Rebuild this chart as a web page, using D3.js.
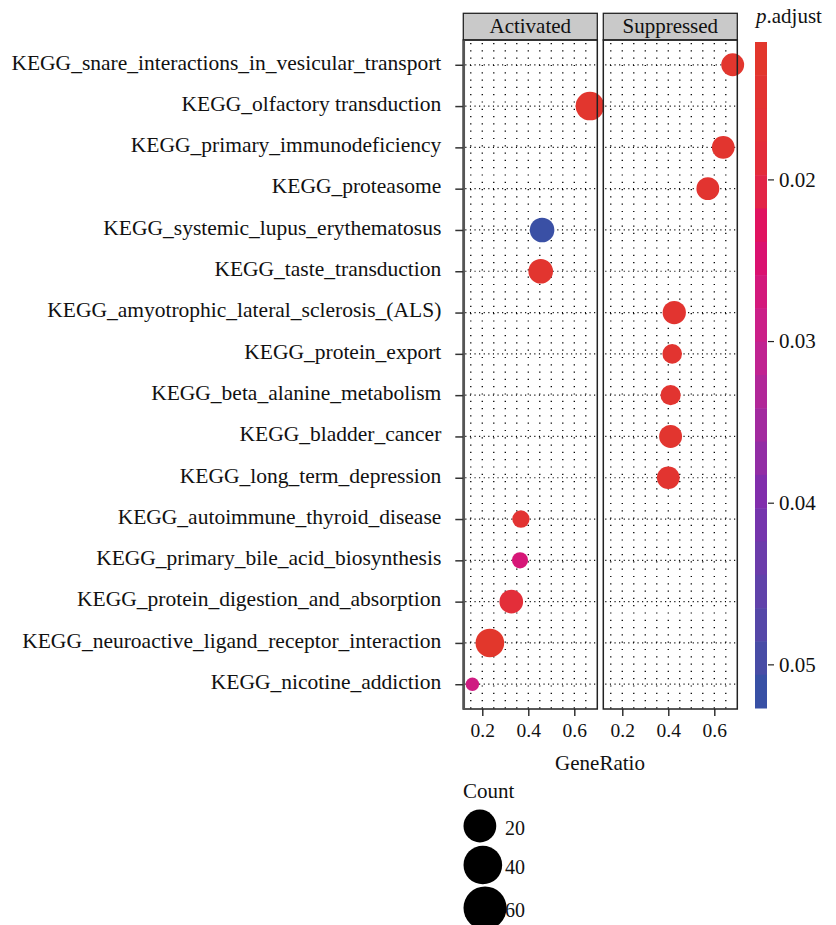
<!DOCTYPE html>
<html>
<head>
<meta charset="utf-8">
<script src="https://cdn.jsdelivr.net/npm/d3@7"></script>
<style>
  body { margin: 0; background: #fff; }
  svg text { font-family: "Liberation Serif", Tinos, "Times New Roman", Times, "DejaVu Serif", serif; fill: #111; }
</style>
</head>
<body>
<svg id="dotplot" width="836" height="925"></svg>
<script>
const pathways = [
  'KEGG_snare_interactions_in_vesicular_transport',
  'KEGG_olfactory transduction',
  'KEGG_primary_immunodeficiency',
  'KEGG_proteasome',
  'KEGG_systemic_lupus_erythematosus',
  'KEGG_taste_transduction',
  'KEGG_amyotrophic_lateral_sclerosis_(ALS)',
  'KEGG_protein_export',
  'KEGG_beta_alanine_metabolism',
  'KEGG_bladder_cancer',
  'KEGG_long_term_depression',
  'KEGG_autoimmune_thyroid_disease',
  'KEGG_primary_bile_acid_biosynthesis',
  'KEGG_protein_digestion_and_absorption',
  'KEGG_neuroactive_ligand_receptor_interaction',
  'KEGG_nicotine_addiction'
];
const groups = ['Activated', 'Suppressed'];
const pathwayGroup = ['Suppressed', 'Activated', 'Suppressed', 'Suppressed', 'Activated', 'Activated',
  'Suppressed', 'Suppressed', 'Suppressed', 'Suppressed', 'Suppressed', 'Activated', 'Activated',
  'Activated', 'Activated', 'Activated'];
const geneRatio = [0.68, 0.668, 0.639, 0.572, 0.46, 0.454, 0.426, 0.417, 0.41, 0.41, 0.40,
  0.368, 0.364, 0.326, 0.233, 0.157];
const counts = [26, 62, 25, 26, 35, 35, 28, 13, 15, 26, 25, 7, 5, 30, 62, 3];
const pAdjust = [0.013, 0.013, 0.0135, 0.014, 0.0515, 0.0135, 0.014, 0.014, 0.014, 0.0135, 0.014,
  0.015, 0.026, 0.018, 0.0125, 0.028];
const xTicks = [0.2, 0.4, 0.6];
const pTicks = [0.02, 0.03, 0.04, 0.05];
const countBreaks = [20, 40, 60];

const data = pathways.map((name, i) => ({
  name, group: pathwayGroup[i], ratio: geneRatio[i], count: counts[i], p: pAdjust[i]
}));

const svg = d3.select('#dotplot');

const plotTop = 40, plotBottom = 709, headerH = 26.7;
const panelX = { Activated: [463.3, 597.3], Suppressed: [603.3, 737.3] };

const yScale = d3.scalePoint()
  .domain(pathways)
  .range([plotTop, plotBottom])
  .padding(0.6);

const xScales = {};
groups.forEach(gr => {
  xScales[gr] = d3.scaleLinear().domain([0.1175, 0.7]).range(panelX[gr]);
});

// colour scale for p.adjust, stops
const colorScale = d3.scaleLinear()
  .domain([0.0115, 0.02, 0.0235, 0.03, 0.04, 0.0527])
  .range(['#e2382a', '#e32a3d', '#df0a68', '#c7218e', '#7b2fae', '#2f52a4'])
  .interpolate(d3.interpolateLab);

// ggplot-style area scale for Count
const areaT = d3.scaleLinear().domain(d3.extent(counts)).range([0, 1]);
const rLin = d3.scaleLinear().domain([0, 1]).range([6.7, 14.3]);
const rScale = v => rLin(Math.sqrt(Math.max(0, areaT(v))));

groups.forEach(gr => {
  const x = xScales[gr];
  const [x0, x1] = panelX[gr];
  const g = svg.append('g');

  // vertical dotted grid
  g.selectAll('.vgrid').data(d3.range(0.15, 0.69, 0.05))
    .enter().append('line')
      .attr('x1', d => x(d)).attr('x2', d => x(d))
      .attr('y1', plotTop + 3).attr('y2', plotBottom)
      .attr('stroke', '#000').attr('stroke-width', 1.3)
      .attr('stroke-dasharray', '1.2,6.1');

  // horizontal dotted grid at each pathway
  g.selectAll('.hgrid').data(pathways)
    .enter().append('line')
      .attr('x1', x0 + 2).attr('x2', x1 - 2)
      .attr('y1', d => yScale(d)).attr('y2', d => yScale(d))
      .attr('stroke', '#000').attr('stroke-width', 1.2)
      .attr('stroke-dasharray', '1.1,3.5');

  // header strip
  svg.append('rect')
    .attr('x', x0).attr('y', plotTop - headerH)
    .attr('width', x1 - x0).attr('height', headerH)
    .attr('fill', '#c9c9c9').attr('stroke', '#222').attr('stroke-width', 1.3);
  svg.append('text')
    .attr('x', (x0 + x1) / 2).attr('y', plotTop - 7)
    .attr('text-anchor', 'middle')
    .attr('font-size', 21)
    .text(gr);

  // x axis
  const xAxis = d3.axisBottom(x).tickValues(xTicks).tickFormat(d3.format('.1f'))
    .tickSize(7).tickSizeOuter(0).tickPadding(7);
  const xAxisG = svg.append('g')
    .attr('transform', `translate(0,${plotBottom})`)
    .call(xAxis)
    .attr('font-family', null);
  xAxisG.select('.domain').remove();
  xAxisG.selectAll('line').attr('stroke', '#333').attr('stroke-width', 1.5);
  xAxisG.selectAll('text').attr('font-size', 19.5).attr('fill', '#111');
});

// points
svg.append('g').selectAll('circle').data(data)
  .enter().append('circle')
    .attr('cx', d => xScales[d.group](d.ratio))
    .attr('cy', d => yScale(d.name))
    .attr('r', d => rScale(d.count))
    .attr('fill', d => colorScale(d.p));

// panel borders on top of points
groups.forEach(gr => {
  const [x0, x1] = panelX[gr];
  svg.append('rect')
    .attr('x', x0).attr('y', plotTop)
    .attr('width', x1 - x0).attr('height', plotBottom - plotTop)
    .attr('fill', 'none').attr('stroke', '#222').attr('stroke-width', 1.5);
});

// y axis
const yAxis = d3.axisLeft(yScale).tickSize(8).tickSizeOuter(0).tickPadding(14);
const yAxisG = svg.append('g')
  .attr('transform', `translate(${panelX.Activated[0]},0)`)
  .call(yAxis)
  .attr('font-family', null);
yAxisG.select('.domain').attr('stroke', '#555').attr('stroke-width', 2.5);
yAxisG.selectAll('line').attr('stroke', '#333').attr('stroke-width', 1.5);
yAxisG.selectAll('text').attr('font-size', 21.5).attr('dy', '0.2em').attr('fill', '#111');

svg.append('text')
  .attr('x', 600).attr('y', 770)
  .attr('text-anchor', 'middle')
  .attr('font-size', 21)
  .text('GeneRatio');

// colour bar
const barX = 755, barW = 12;
const pScale = d3.scaleLinear().domain([0.0115, 0.0527]).range([42, 708]);
const nBins = 20;
const binEdges = d3.range(nBins + 1).map(i => 0.0115 + i * (0.0527 - 0.0115) / nBins);
svg.append('g').selectAll('rect').data(d3.range(nBins))
  .enter().append('rect')
    .attr('x', barX).attr('width', barW)
    .attr('y', i => pScale(binEdges[i]))
    .attr('height', i => pScale(binEdges[i + 1]) - pScale(binEdges[i]) + 0.5)
    .attr('fill', i => colorScale((binEdges[i] + binEdges[i + 1]) / 2));

const pAxis = d3.axisRight(pScale).tickValues(pTicks).tickFormat(d3.format('.2f'))
  .tickSize(6).tickSizeOuter(0).tickPadding(5);
const pAxisG = svg.append('g')
  .attr('transform', `translate(${barX + barW + 1},0)`)
  .call(pAxis)
  .attr('font-family', null);
pAxisG.select('.domain').remove();
pAxisG.selectAll('line').attr('stroke', '#222').attr('stroke-width', 1.2);
pAxisG.selectAll('text').attr('font-size', 21).attr('fill', '#111');

const pTitle = svg.append('text')
  .attr('x', 756).attr('y', 23)
  .attr('font-size', 21);
pTitle.append('tspan').attr('font-style', 'italic').text('p');
pTitle.append('tspan').text('.adjust');

// Count legend
const legendFactor = 1.52;
const legendY = [826, 865, 908];
svg.append('text')
  .attr('x', 463).attr('y', 798)
  .attr('font-size', 21)
  .text('Count');
const lg = svg.append('g').selectAll('g').data(countBreaks)
  .enter().append('g');
lg.append('circle')
  .attr('cx', d => 463.5 + rScale(d) * legendFactor)
  .attr('cy', (d, i) => legendY[i])
  .attr('r', d => rScale(d) * legendFactor)
  .attr('fill', '#000');
lg.append('text')
  .attr('x', 505)
  .attr('y', (d, i) => legendY[i] + 9)
  .attr('font-size', 20)
  .text(d => d);
</script>
</body>
</html>
